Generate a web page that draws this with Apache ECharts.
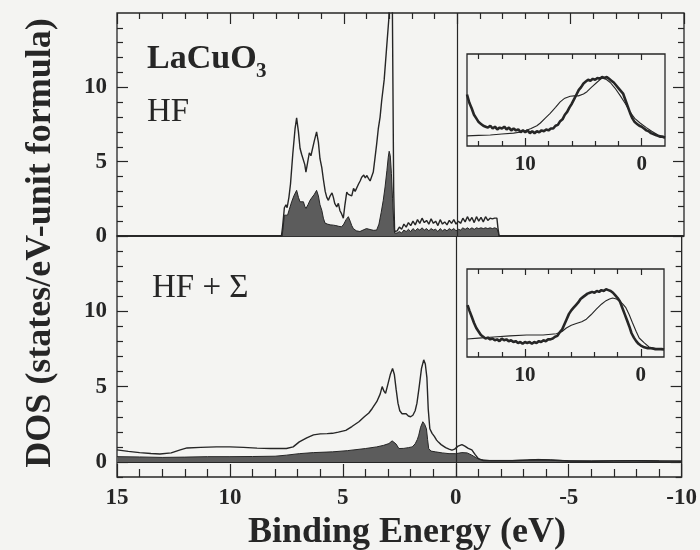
<!DOCTYPE html>
<html>
<head>
<meta charset="utf-8">
<script src="https://cdn.jsdelivr.net/npm/echarts@6/dist/echarts.min.js"></script>
<style>
  html, body { margin: 0; padding: 0; background: #f4f4f2; }
  #chart { width: 700px; height: 550px; }
</style>
</head>
<body>
<div id="chart"></div>
<script>
// Binding-energy tick values (eV), major and minor
const energyMajor = [15, 10, 5, 0, -5, -10];
const energyMinor = [14, 13, 12, 11, 9, 8, 7, 6, 4, 3, 2, 1, -1, -2, -3, -4, -6, -7, -8, -9];
// DOS tick values
const dosMajor = [0, 5, 10];
const dosMinor = [1, 2, 3, 4, 6, 7, 8, 9, 11, 12, 13, 14];
const dosMinorLow = [-1, 1, 2, 3, 4, 6, 7, 8, 9, 11, 12, 13, 14];
// Inset energy ticks
const insetMajor = [10, 0];
const insetMinor = [14, 12, 8, 6, 4, 2];
const insetLabels = [10, 0];

// HF: total DOS [E, DOS]
const hfTotal = [
  [15, 0], [7.75, 0], [7.7, 0.6], [7.62, 1.9], [7.55, 2.1], [7.5, 1.9], [7.42, 2.6], [7.35, 3.5],
  [7.25, 5.5], [7.15, 7.2], [7.08, 7.95], [7.0, 7.0], [6.93, 5.9], [6.86, 5.5], [6.78, 5.6],
  [6.72, 4.8], [6.67, 4.3], [6.6, 4.9], [6.52, 5.6], [6.45, 5.4], [6.37, 5.5], [6.3, 6.4],
  [6.2, 7.0], [6.12, 6.3], [6.05, 5.2], [5.97, 4.6], [5.9, 3.8], [5.82, 3.0], [5.75, 2.6],
  [5.68, 2.4], [5.6, 2.7], [5.52, 2.9], [5.46, 2.6], [5.4, 2.2], [5.31, 1.95], [5.24, 2.2],
  [5.17, 1.7], [5.1, 1.5], [5.02, 1.2], [4.95, 2.1], [4.87, 2.95], [4.8, 2.8], [4.72, 2.9],
  [4.65, 2.7], [4.57, 3.2], [4.5, 3.0], [4.43, 3.1], [4.35, 3.5], [4.28, 3.7], [4.21, 3.95],
  [4.12, 4.1], [4.05, 3.9], [3.99, 4.07], [3.92, 3.9], [3.84, 3.7], [3.77, 4.0], [3.7, 4.3],
  [3.62, 5.3], [3.55, 6.2], [3.48, 7.2], [3.4, 8.0], [3.33, 9.1], [3.22, 10.5], [3.12, 12.5],
  [3.02, 14.5], [2.95, 17], [2.88, 20], [2.84, 20], [2.8, 3], [2.76, 0.3], [2.7, 0.25],
  [2.65, 0.35], [2.55, 0.6], [2.45, 0.45], [2.35, 0.8], [2.25, 0.6], [2.15, 0.9], [2.05, 0.7],
  [1.95, 1.0], [1.85, 0.75], [1.75, 1.1], [1.65, 0.85], [1.55, 1.2], [1.45, 0.9], [1.35, 1.05],
  [1.25, 0.8], [1.15, 1.15], [1.05, 0.85], [0.95, 1.0], [0.85, 0.7], [0.75, 1.1], [0.65, 0.8],
  [0.55, 0.95], [0.45, 0.75], [0.35, 1.05], [0.25, 0.85], [0.15, 1.1], [0.05, 0.8], [-0.05, 1.0],
  [-0.15, 0.85], [-0.25, 1.2], [-0.35, 0.95], [-0.45, 1.3], [-0.55, 1.0], [-0.65, 1.25],
  [-0.75, 0.9], [-0.85, 1.3], [-0.95, 1.0], [-1.05, 1.25], [-1.15, 0.95], [-1.25, 1.3],
  [-1.35, 1.05], [-1.45, 1.2], [-1.55, 1.15], [-1.65, 1.2], [-1.75, 1.2], [-1.8, 0.5],
  [-1.85, 0], [-10, 0]
];
// HF: Cu-d partial DOS (shaded)
const hfPartial = [
  [15, 0], [7.72, 0], [7.68, 0.5], [7.62, 1.4], [7.55, 1.5], [7.48, 1.4], [7.4, 1.8], [7.3, 2.3],
  [7.2, 2.7], [7.08, 3.07], [7.0, 2.6], [6.93, 2.3], [6.86, 2.2], [6.78, 2.3], [6.72, 2.0],
  [6.67, 1.85], [6.58, 2.1], [6.49, 2.4], [6.4, 2.6], [6.3, 2.8], [6.2, 3.07], [6.12, 2.7],
  [6.05, 2.1], [5.97, 1.73], [5.9, 1.2], [5.83, 0.87], [5.72, 0.8], [5.6, 0.75], [5.46, 0.73],
  [5.35, 0.7], [5.22, 0.65], [5.1, 0.62], [5.0, 0.8], [4.9, 1.1], [4.8, 1.3], [4.72, 1.0],
  [4.65, 0.7], [4.58, 0.5], [4.45, 0.35], [4.29, 0.3], [4.15, 0.4], [4.0, 0.5], [3.92, 0.5],
  [3.8, 0.42], [3.68, 0.38], [3.55, 0.4], [3.45, 0.8], [3.35, 1.6], [3.26, 2.4], [3.18, 3.3],
  [3.1, 4.4], [3.04, 5.3], [3.0, 5.7], [2.95, 5.4], [2.9, 4.2], [2.85, 2.5], [2.8, 1.0],
  [2.76, 0.2], [2.7, 0.15], [2.65, 0.2], [2.55, 0.3], [2.45, 0.2], [2.35, 0.4], [2.25, 0.3],
  [2.15, 0.45], [2.05, 0.3], [1.95, 0.5], [1.85, 0.35], [1.75, 0.5], [1.65, 0.4], [1.55, 0.55],
  [1.45, 0.4], [1.35, 0.5], [1.25, 0.35], [1.15, 0.5], [1.05, 0.4], [0.95, 0.45], [0.85, 0.3],
  [0.75, 0.5], [0.65, 0.35], [0.55, 0.45], [0.45, 0.35], [0.35, 0.5], [0.25, 0.4], [0.15, 0.5],
  [0.05, 0.35], [-0.05, 0.45], [-0.15, 0.4], [-0.25, 0.55], [-0.35, 0.45], [-0.45, 0.55],
  [-0.55, 0.45], [-0.65, 0.55], [-0.75, 0.45], [-0.85, 0.55], [-0.95, 0.5], [-1.05, 0.55],
  [-1.15, 0.5], [-1.25, 0.55], [-1.35, 0.5], [-1.45, 0.55], [-1.55, 0.5], [-1.65, 0.55],
  [-1.75, 0.5], [-1.8, 0.3], [-1.85, 0], [-10, 0]
];
// HF + Sigma: total DOS
const sigTotal = [
  [15, 0.8], [14.5, 0.7], [14, 0.62], [13.5, 0.56], [13.1, 0.53], [12.6, 0.6], [12.2, 0.8],
  [11.9, 0.93], [11.3, 0.97], [10.6, 1.0], [10.0, 1.0], [9.4, 0.97], [8.8, 0.92], [8.2, 0.89],
  [7.5, 0.89], [7.2, 1.0], [6.93, 1.33], [6.6, 1.6], [6.3, 1.8], [6.0, 1.86], [5.7, 1.88],
  [5.46, 1.9], [5.2, 1.98], [4.87, 2.1], [4.6, 2.35], [4.29, 2.67], [4.05, 3.0], [3.85, 3.25],
  [3.7, 3.55], [3.5, 4.0], [3.35, 4.5], [3.26, 5.0], [3.18, 4.7], [3.11, 4.55], [3.0, 5.2],
  [2.9, 5.8], [2.8, 6.2], [2.72, 5.8], [2.64, 4.8], [2.56, 3.9], [2.48, 3.4], [2.38, 3.2],
  [2.3, 3.3], [2.2, 3.2], [2.1, 3.05], [2.0, 3.0], [1.9, 3.1], [1.8, 3.4], [1.72, 3.9],
  [1.62, 5.0], [1.52, 6.2], [1.42, 6.78], [1.35, 6.5], [1.28, 5.6], [1.22, 3.5], [1.15, 2.2],
  [1.05, 1.9], [0.95, 1.7], [0.85, 1.45], [0.76, 1.3], [0.65, 1.15], [0.55, 1.05], [0.45, 0.95],
  [0.3, 0.85], [0.17, 0.78], [0.05, 0.85], [-0.1, 1.05], [-0.27, 1.15], [-0.4, 1.05],
  [-0.55, 0.9], [-0.71, 0.8], [-0.85, 0.5], [-1.0, 0.22], [-1.2, 0.1], [-1.6, 0.08],
  [-2.5, 0.08], [-3.2, 0.12], [-3.65, 0.15], [-4.2, 0.12], [-5, 0.06], [-6, 0.05], [-7, 0.07],
  [-8, 0.08], [-9, 0.06], [-10, 0.05]
];
// HF + Sigma: Cu-d partial DOS (shaded)
const sigPartial = [
  [15, 0.35], [14, 0.33], [13, 0.3], [12, 0.32], [11, 0.35], [10, 0.35], [9, 0.36], [8, 0.38],
  [7.5, 0.45], [6.93, 0.55], [6.3, 0.62], [5.46, 0.67], [4.8, 0.75], [4.0, 0.89], [3.5, 1.0],
  [3.2, 1.1], [2.96, 1.22], [2.82, 1.4], [2.74, 1.45], [2.65, 1.2], [2.52, 0.89], [2.3, 0.9],
  [2.1, 0.95], [1.93, 1.0], [1.8, 1.2], [1.7, 1.5], [1.64, 1.78], [1.56, 2.3], [1.46, 2.67],
  [1.38, 2.5], [1.3, 2.2], [1.25, 1.5], [1.2, 0.89], [1.1, 0.72], [0.9, 0.67], [0.6, 0.6],
  [0.3, 0.55], [0.0, 0.55], [-0.27, 0.62], [-0.5, 0.6], [-0.71, 0.45], [-0.9, 0.28],
  [-1.1, 0.15], [-1.5, 0.1], [-2.5, 0.1], [-3.2, 0.14], [-3.65, 0.17], [-4.2, 0.14],
  [-5, 0.08], [-6, 0.07], [-7, 0.08], [-8, 0.09], [-9, 0.07], [-10, 0.06]
];
// Inset (HF): measured spectrum and broadened theory, arbitrary units
const hfInsetExp = [
  [15.0, 0.56], [14.8, 0.47], [14.6, 0.41], [14.4, 0.34], [14.2, 0.3], [14.0, 0.26], [13.8, 0.24],
  [13.6, 0.22], [13.4, 0.21], [13.2, 0.2], [13.0, 0.22], [12.8, 0.19], [12.6, 0.21], [12.4, 0.18],
  [12.2, 0.2], [12.0, 0.19], [11.8, 0.21], [11.6, 0.18], [11.4, 0.2], [11.2, 0.17], [11.0, 0.19],
  [10.8, 0.17], [10.6, 0.18], [10.4, 0.15], [10.2, 0.17], [10.0, 0.15], [9.8, 0.17], [9.6, 0.14],
  [9.4, 0.16], [9.2, 0.14], [9.0, 0.16], [8.8, 0.15], [8.6, 0.17], [8.4, 0.16], [8.2, 0.18],
  [8.0, 0.17], [7.8, 0.19], [7.6, 0.19], [7.4, 0.22], [7.2, 0.23], [7.0, 0.27], [6.8, 0.29],
  [6.6, 0.34], [6.4, 0.37], [6.2, 0.42], [6.0, 0.46], [5.8, 0.51], [5.6, 0.56], [5.4, 0.61],
  [5.2, 0.64], [5.0, 0.68], [4.8, 0.7], [4.6, 0.72], [4.4, 0.71], [4.2, 0.73], [4.0, 0.72],
  [3.8, 0.74], [3.6, 0.73], [3.4, 0.75], [3.2, 0.74], [3.0, 0.75], [2.8, 0.73], [2.6, 0.71],
  [2.4, 0.69], [2.2, 0.66], [2.0, 0.63], [1.8, 0.6], [1.6, 0.57], [1.4, 0.5], [1.2, 0.43],
  [1.0, 0.36], [0.8, 0.3], [0.6, 0.26], [0.4, 0.24], [0.2, 0.22], [0.0, 0.21], [-0.2, 0.19],
  [-0.4, 0.17], [-0.6, 0.16], [-0.8, 0.14], [-1.0, 0.13], [-1.2, 0.12], [-1.4, 0.11],
  [-1.6, 0.1], [-1.8, 0.1], [-2.0, 0.09]
];
const hfInsetTheory = [
  [15, 0.11], [14, 0.115], [13, 0.12], [12, 0.13], [11, 0.14], [10.5, 0.15], [10, 0.165],
  [9.5, 0.19], [9, 0.22], [8.7, 0.25], [8.3, 0.3], [7.86, 0.355], [7.4, 0.42], [7.0, 0.48],
  [6.6, 0.52], [6.14, 0.54], [5.8, 0.545], [5.43, 0.545], [5.0, 0.565], [4.7, 0.59],
  [4.3, 0.64], [3.86, 0.69], [3.5, 0.73], [3.3, 0.74], [3.0, 0.72], [2.7, 0.69], [2.3, 0.63],
  [1.86, 0.55], [1.4, 0.46], [1.0, 0.37], [0.6, 0.3], [0.14, 0.25], [-0.4, 0.2], [-0.86, 0.16],
  [-1.4, 0.12], [-2.0, 0.1]
];
// Inset (HF + Sigma)
const sigInsetExp = [
  [14.95, 0.59], [14.8, 0.53], [14.6, 0.46], [14.4, 0.39], [14.2, 0.33], [14.0, 0.29],
  [13.8, 0.25], [13.6, 0.23], [13.4, 0.21], [13.2, 0.22], [13.0, 0.2], [12.8, 0.21], [12.6, 0.19],
  [12.4, 0.2], [12.2, 0.18], [12.0, 0.21], [11.8, 0.19], [11.6, 0.2], [11.4, 0.18], [11.2, 0.19],
  [11.0, 0.17], [10.8, 0.18], [10.6, 0.16], [10.4, 0.17], [10.2, 0.15], [10.0, 0.17], [9.8, 0.16],
  [9.6, 0.17], [9.4, 0.15], [9.2, 0.17], [9.0, 0.16], [8.8, 0.18], [8.6, 0.17], [8.4, 0.19],
  [8.2, 0.18], [8.0, 0.2], [7.8, 0.2], [7.6, 0.21], [7.4, 0.23], [7.2, 0.24], [7.0, 0.28],
  [6.8, 0.31], [6.6, 0.37], [6.4, 0.43], [6.2, 0.49], [6.0, 0.53], [5.8, 0.56], [5.6, 0.59],
  [5.4, 0.62], [5.2, 0.66], [5.0, 0.68], [4.8, 0.7], [4.6, 0.72], [4.4, 0.73], [4.2, 0.74],
  [4.0, 0.73], [3.8, 0.75], [3.6, 0.74], [3.4, 0.76], [3.2, 0.75], [3.0, 0.77], [2.8, 0.76],
  [2.6, 0.75], [2.4, 0.73], [2.2, 0.7], [2.0, 0.67], [1.8, 0.63], [1.6, 0.56], [1.4, 0.49],
  [1.2, 0.42], [1.0, 0.35], [0.8, 0.27], [0.6, 0.22], [0.4, 0.18], [0.2, 0.15], [0.0, 0.13],
  [-0.3, 0.11], [-0.6, 0.1], [-0.9, 0.1], [-1.2, 0.09], [-1.5, 0.09], [-1.8, 0.09], [-2.0, 0.085]
];
const sigInsetTheory = [
  [15, 0.205], [14, 0.215], [12.7, 0.227], [11.3, 0.24], [9.86, 0.25], [8.43, 0.25],
  [7.29, 0.265], [6.8, 0.29], [6.43, 0.33], [6.0, 0.36], [5.57, 0.38], [5.1, 0.4], [4.7, 0.43],
  [4.3, 0.48], [3.86, 0.54], [3.4, 0.6], [3.0, 0.64], [2.7, 0.66], [2.43, 0.67], [2.1, 0.66],
  [1.86, 0.64], [1.55, 0.6], [1.29, 0.56], [1.0, 0.48], [0.72, 0.39], [0.4, 0.29],
  [0.14, 0.216], [-0.3, 0.16], [-0.71, 0.114], [-1.3, 0.095], [-1.86, 0.083], [-2.0, 0.082]
];

const FONT = '"Liberation Serif", "Times New Roman", serif';
const INK = '#262626';
const SHADE = '#5c5c5c';

const xAxes = [];
const yAxes = [];

function tickStyle(values, len) {
  return { show: true, inside: true, length: len, customValues: values,
           lineStyle: { color: INK, width: 1.2 } };
}
function labelStyle(values, size, margin) {
  return { show: true, customValues: values, color: INK, fontFamily: FONT,
           fontWeight: 'bold', fontSize: size, margin: margin,
           formatter: function (v) { return String(v); } };
}
function addX(o) {
  xAxes.push(Object.assign({
    type: 'value', min: -10, max: 15, inverse: true,
    axisLine: { show: false, onZero: false }, splitLine: { show: false },
    axisTick: { show: false }, axisLabel: { show: false }
  }, o));
  return xAxes.length - 1;
}
function addY(o) {
  yAxes.push(Object.assign({
    type: 'value', min: 0, max: 15,
    axisLine: { show: false, onZero: false }, splitLine: { show: false },
    axisTick: { show: false }, axisLabel: { show: false }
  }, o));
  return yAxes.length - 1;
}

// Upper panel (HF)
const xTop = addX({ gridIndex: 0, position: 'bottom' });
addX({ gridIndex: 0, position: 'top', axisTick: tickStyle(energyMajor, 11) });
addX({ gridIndex: 0, position: 'top', axisTick: tickStyle(energyMinor, 6) });
const yTop = addY({ gridIndex: 0, position: 'left', axisTick: tickStyle(dosMajor, 11),
                    axisLabel: labelStyle(dosMajor, 23, 10) });
addY({ gridIndex: 0, position: 'left', axisTick: tickStyle(dosMinor, 6) });
addY({ gridIndex: 0, position: 'right', axisTick: tickStyle(dosMajor, 11) });
addY({ gridIndex: 0, position: 'right', axisTick: tickStyle(dosMinor, 6) });

// Lower panel (HF + Sigma)
const xBot = addX({ gridIndex: 1, position: 'bottom', axisTick: tickStyle(energyMajor, 13),
                    axisLabel: labelStyle(energyMajor, 23, 10) });
addX({ gridIndex: 1, position: 'bottom', axisTick: tickStyle(energyMinor, 8) });
const yBot = addY({ gridIndex: 1, position: 'left', min: -1, axisTick: tickStyle(dosMajor, 11),
                    axisLabel: labelStyle(dosMajor, 23, 10) });
addY({ gridIndex: 1, position: 'left', min: -1, axisTick: tickStyle(dosMinorLow, 6) });
addY({ gridIndex: 1, position: 'right', min: -1, axisTick: tickStyle(dosMajor, 11) });
addY({ gridIndex: 1, position: 'right', min: -1, axisTick: tickStyle(dosMinorLow, 6) });

// Insets
function addInset(grid) {
  const x = addX({ gridIndex: grid, position: 'bottom', min: -2, max: 15,
                   axisTick: tickStyle(insetMajor, 8), axisLabel: labelStyle(insetLabels, 21, 8) });
  addX({ gridIndex: grid, position: 'bottom', min: -2, max: 15, axisTick: tickStyle(insetMinor, 5) });
  addX({ gridIndex: grid, position: 'top', min: -2, max: 15, axisTick: tickStyle(insetMajor, 6) });
  addX({ gridIndex: grid, position: 'top', min: -2, max: 15, axisTick: tickStyle(insetMinor, 5) });
  const y = addY({ gridIndex: grid, min: 0, max: 1 });
  return [x, y];
}
const [xInsTop, yInsTop] = addInset(2);
const [xInsBot, yInsBot] = addInset(3);

const frame = { show: true, borderColor: INK, borderWidth: 1.3, backgroundColor: 'transparent' };

const zeroLine = {
  silent: true, symbol: 'none', label: { show: false },
  lineStyle: { color: INK, width: 1.2, type: 'solid' },
  data: [{ xAxis: 0 }]
};

function curve(data, xi, yi, width, z) {
  return { type: 'line', data: data, xAxisIndex: xi, yAxisIndex: yi, showSymbol: false,
           symbol: 'none', lineStyle: { color: INK, width: width }, z: z, silent: true };
}
function shaded(data, xi, yi) {
  const s = curve(data, xi, yi, 1, 2);
  s.areaStyle = { color: SHADE, opacity: 1 };
  return s;
}

const topTotal = curve(hfTotal, xTop, yTop, 1.4, 3);
topTotal.markLine = zeroLine;
const botTotal = curve(sigTotal, xBot, yBot, 1.4, 3);
botTotal.markLine = Object.assign({}, zeroLine, { data: [{ xAxis: 0 }, { yAxis: 0 }] });

const option = {
  backgroundColor: '#f4f4f2',
  animation: false,
  grid: [
    Object.assign({ left: 117, right: 16, top: 13, height: 223 }, frame),
    Object.assign({ left: 117, right: 16, top: 236, height: 241 }, frame),
    Object.assign({ left: 467, width: 198, top: 54, height: 92 }, frame),
    Object.assign({ left: 467, width: 197, top: 269, height: 88 }, frame)
  ],
  xAxis: xAxes,
  yAxis: yAxes,
  series: [
    shaded(hfPartial, xTop, yTop),
    topTotal,
    shaded(sigPartial, xBot, yBot),
    botTotal,
    curve(hfInsetTheory, xInsTop, yInsTop, 1.1, 3),
    curve(hfInsetExp, xInsTop, yInsTop, 2.6, 4),
    curve(sigInsetTheory, xInsBot, yInsBot, 1.1, 3),
    curve(sigInsetExp, xInsBot, yInsBot, 2.6, 4)
  ],
  graphic: [
    { type: 'text', x: 147, y: 42, style: { text: 'LaCuO', font: 'bold 34px ' + FONT, fill: INK } },
    { type: 'text', x: 256, y: 61, style: { text: '3', font: 'bold 21px ' + FONT, fill: INK } },
    { type: 'text', x: 147, y: 96, style: { text: 'HF', font: '33px ' + FONT, fill: INK } },
    { type: 'text', x: 152, y: 272, style: { text: 'HF + \u03A3', font: '33px ' + FONT, fill: INK } },
    { type: 'text', x: 41, y: 243, rotation: Math.PI / 2,
      style: { text: 'DOS (states/eV-unit formula)', font: 'bold 36px ' + FONT, fill: INK,
               align: 'center', verticalAlign: 'middle', textAlign: 'center', textVerticalAlign: 'middle' } },
    { type: 'text', x: 407, y: 533,
      style: { text: 'Binding Energy (eV)', font: 'bold 36px ' + FONT, fill: INK,
               align: 'center', verticalAlign: 'middle', textAlign: 'center', textVerticalAlign: 'middle' } }
  ]
};

const chart = echarts.init(document.getElementById('chart'), null, { renderer: 'canvas' });
chart.setOption(option);
</script>
</body>
</html>
